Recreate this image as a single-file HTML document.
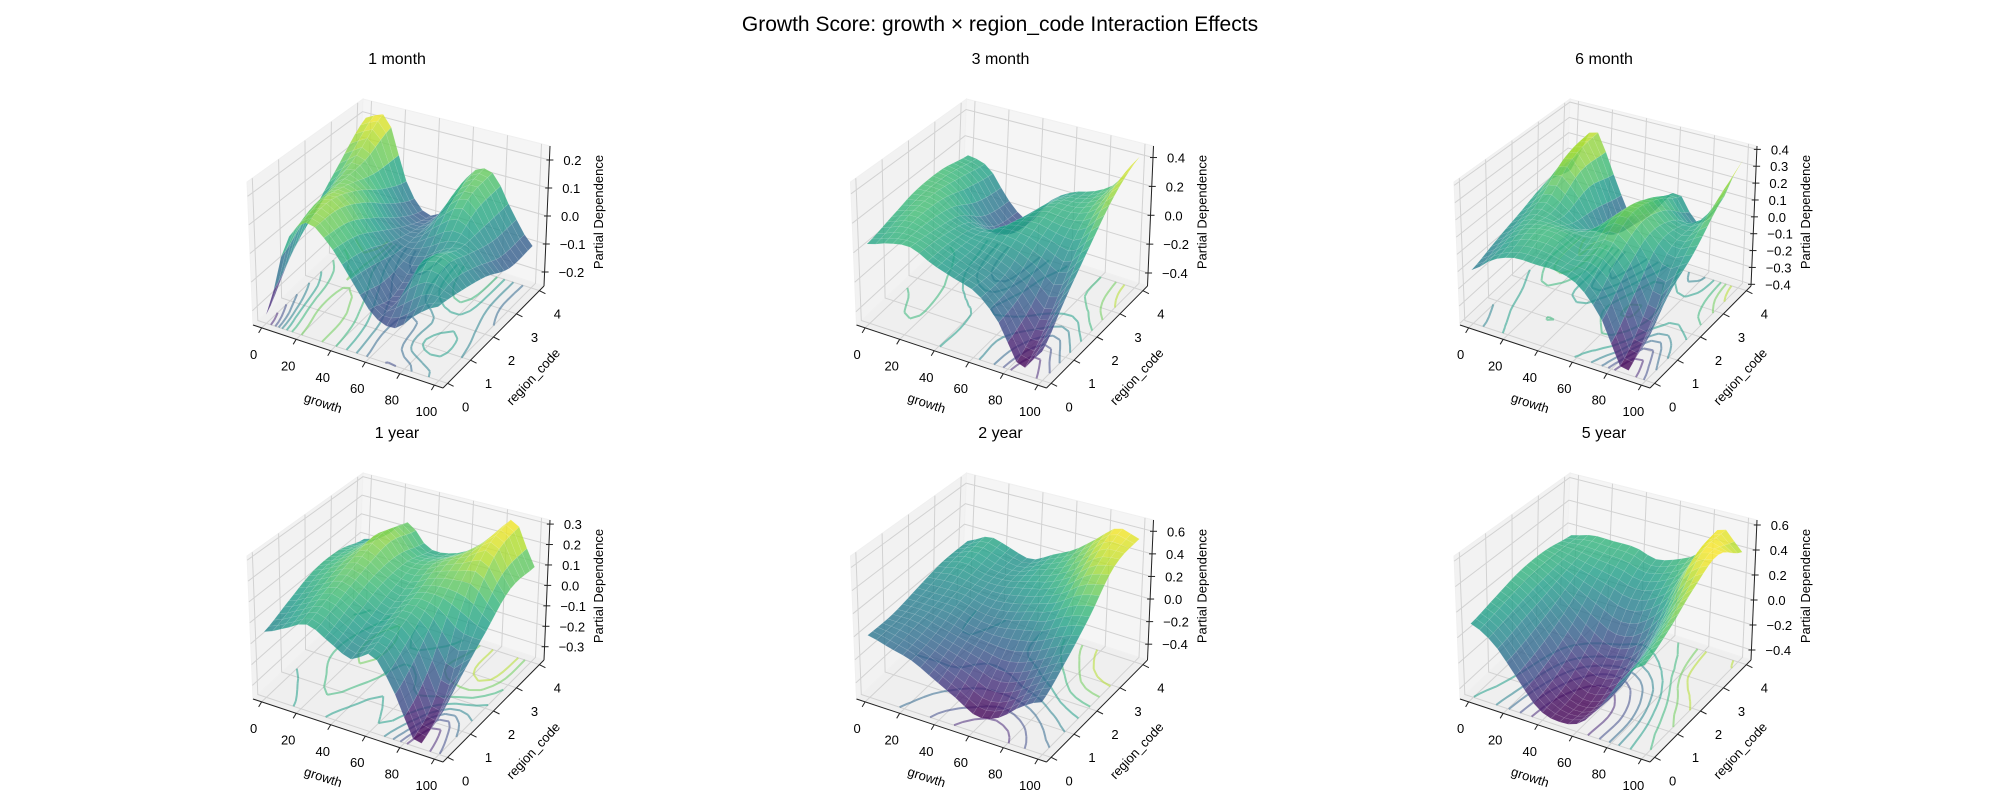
<!DOCTYPE html>
<html><head><meta charset="utf-8"><style>
body{margin:0;background:#fff}
svg text{font-family:"Liberation Sans","DejaVu Sans",sans-serif;fill:#000}
</style></head><body>
<svg id="chart" width="2000" height="800" viewBox="0 0 2000 800" xmlns="http://www.w3.org/2000/svg">
<text x="1000" y="31" font-size="21" text-anchor="middle">Growth Score: growth × region_code Interaction Effects</text>
</svg>
<script>
// ---- data ----
const panelTitles = ["1 month","3 month","6 month","1 year","2 year","5 year"];
const growthValues = [0,12.5,25,37.5,50,62.5,75,87.5,100];
const regionValues = [0,1,2,3,4];
const growthTicks = [0,20,40,60,80,100];
const regionTicks = [0,1,2,3,4];
const zTicks1m = [-0.2,-0.1,0.0,0.1,0.2];
const zTicks3m = [-0.4,-0.2,0.0,0.2,0.4];
const zTicks6m = [-0.4,-0.3,-0.2,-0.1,0.0,0.1,0.2,0.3,0.4];
const zTicks1y = [-0.3,-0.2,-0.1,0.0,0.1,0.2,0.3];
const zTicks2y = [-0.4,-0.2,0.0,0.2,0.4,0.6];
const zTicks5y = [-0.4,-0.2,0.0,0.2,0.4,0.6];
const zRange1m = [-0.25,0.25];
const zRange3m = [-0.49,0.48];
const zRange6m = [-0.41,0.42];
const zRange1y = [-0.365,0.32];
const zRange2y = [-0.54,0.70];
const zRange5y = [-0.48,0.64];
// surface values: rows = region 0..4, cols = growth values
const surf1m = [
 [-0.22,0.05,0.15,0.10,0.00,-0.10,-0.12,-0.05,0.00],
 [-0.10,0.10,0.16,0.08,-0.02,-0.12,0.02,0.05,-0.02],
 [0.00,0.12,0.12,0.02,-0.05,-0.05,0.00,0.02,-0.05],
 [0.10,0.15,0.05,-0.05,-0.05,0.05,0.10,0.00,-0.10],
 [0.20,0.22,0.00,-0.10,-0.05,0.10,0.12,0.00,-0.10]];
const surf3m = [
 [0.05,0.10,0.12,0.05,0.00,-0.05,-0.20,-0.45,-0.30],
 [0.10,0.15,0.10,0.05,0.00,-0.05,-0.15,-0.30,-0.10],
 [0.15,0.15,0.05,0.00,0.05,0.05,0.00,-0.05,0.10],
 [0.15,0.10,-0.10,-0.20,0.00,0.10,0.10,0.15,0.30],
 [0.10,0.05,-0.15,-0.25,-0.05,0.05,0.10,0.20,0.42]];
const surf6m = [
 [-0.10,0.00,0.05,0.05,0.05,0.00,-0.15,-0.40,-0.20],
 [-0.05,0.05,0.10,0.10,0.05,0.10,0.00,-0.25,-0.05],
 [0.00,0.10,0.05,0.00,0.10,0.20,0.10,0.00,0.05],
 [0.05,0.25,0.10,-0.15,0.00,0.15,0.05,0.05,0.20],
 [0.00,0.30,0.05,-0.20,-0.10,0.05,-0.10,0.05,0.35]];
const surf1y = [
 [-0.05,0.00,0.05,0.00,-0.05,0.00,-0.15,-0.35,-0.20],
 [0.00,0.05,0.10,0.05,0.00,0.05,-0.05,-0.25,-0.10],
 [0.05,0.10,0.15,0.10,0.05,0.10,0.10,0.05,0.00],
 [0.05,0.10,0.20,0.10,0.10,0.15,0.20,0.25,0.10],
 [0.00,0.05,0.15,0.05,0.05,0.10,0.20,0.30,0.10]];
const surf2y = [
 [0.00,-0.05,-0.10,-0.20,-0.30,-0.40,-0.35,-0.20,-0.10],
 [0.00,0.00,-0.05,-0.10,-0.15,-0.20,-0.15,-0.05,0.05],
 [0.05,0.05,0.05,0.00,0.00,0.05,0.10,0.20,0.25],
 [0.10,0.15,0.10,0.10,0.15,0.20,0.30,0.45,0.50],
 [0.10,0.20,0.15,0.10,0.20,0.30,0.45,0.60,0.55]];
const surf5y = [
 [0.10,0.00,-0.20,-0.40,-0.45,-0.40,-0.20,0.05,0.20],
 [0.15,0.05,-0.15,-0.35,-0.45,-0.40,-0.20,0.10,0.30],
 [0.20,0.10,-0.05,-0.20,-0.30,-0.25,-0.05,0.25,0.45],
 [0.20,0.15,0.10,0.05,0.00,0.05,0.20,0.50,0.55],
 [0.15,0.20,0.20,0.20,0.15,0.20,0.30,0.55,0.40]];

const surfaces=[surf1m,surf3m,surf6m,surf1y,surf2y,surf5y];
const zTickSets=[zTicks1m,zTicks3m,zTicks6m,zTicks1y,zTicks2y,zTicks5y];
const zRanges=[zRange1m,zRange3m,zRange6m,zRange1y,zRange2y,zRange5y];

// ---- geometry ----
const C={ '000':[253,325],'100':[443,388],'010':[358,226],'110':[544,286],
          '001':[247,182],'101':[441,240],'011':[363,99],'111':[550,146]};
const NS="http://www.w3.org/2000/svg";
const svg=document.getElementById('chart');
const GX=[-5,105], RX=[-0.2,4.2];
function lerp(a,b,t){return [a[0]+(b[0]-a[0])*t,a[1]+(b[1]-a[1])*t];}
function proj(u,v,w,ox,oy){
  const a=lerp(C['000'],C['100'],u), b=lerp(C['010'],C['110'],u);
  const c=lerp(C['001'],C['101'],u), d=lerp(C['011'],C['111'],u);
  const lo=lerp(a,b,v), hi=lerp(c,d,v); const p=lerp(lo,hi,w);
  return [p[0]+ox,p[1]+oy];
}
const VIR=[[68,1,84],[72,40,120],[62,74,137],[49,104,142],[38,130,142],[31,158,137],[53,183,121],[109,205,89],[180,222,44],[253,231,37]];
function viridis(t){t=Math.max(0,Math.min(1,t));const s=t*9,i=Math.min(8,Math.floor(s)),f=s-i;
  const a=VIR[i],b=VIR[i+1];return 'rgb('+[0,1,2].map(k=>Math.round(a[k]+(b[k]-a[k])*f)).join(',')+')';}
function mk(tag,attrs,parent){const e=document.createElementNS(NS,tag);for(const k in attrs)e.setAttribute(k,attrs[k]);(parent||svg).appendChild(e);return e;}
function pts(a){return a.map(p=>p[0].toFixed(1)+','+p[1].toFixed(1)).join(' ');}
function cr(p0,p1,p2,p3,t){return 0.5*((2*p1)+(-p0+p2)*t+(2*p0-5*p1+4*p2-p3)*t*t+(-p0+3*p1-3*p2+p3)*t*t*t);}
function sample(Z,g,r){
  const nc=growthValues.length, nr=regionValues.length;
  const gi=(g-growthValues[0])/(growthValues[nc-1]-growthValues[0])*(nc-1);
  const ri=(r-regionValues[0])/(regionValues[nr-1]-regionValues[0])*(nr-1);
  const ci=Math.min(nc-2,Math.floor(gi)), rj=Math.min(nr-2,Math.floor(ri));
  const tg=gi-ci, tr=ri-rj; const cl=(a,n)=>Math.max(0,Math.min(n-1,a));
  const rows=[];
  for(let k=-1;k<=2;k++){const R=Z[cl(rj+k,nr)];
    rows.push(cr(R[cl(ci-1,nc)],R[cl(ci,nc)],R[cl(ci+1,nc)],R[cl(ci+2,nc)],tg));}
  return cr(rows[0],rows[1],rows[2],rows[3],tr);
}

for(let p=0;p<6;p++){
  const col=p%3,row=Math.floor(p/3);
  const ox=col*603.5, oy=row*374;
  const g=mk('g',{});
  
  
  const Z=surfaces[p], zr=zRanges[p], zt=zTickSets[p];
  const U=x=>(x-GX[0])/(GX[1]-GX[0]), V=x=>(x-RX[0])/(RX[1]-RX[0]), W=z=>(z-zr[0])/(zr[1]-zr[0]);
  const P=(u,v,w)=>proj(u,v,w,ox,oy);
  const t=mk('text',{x:397+ox,y:64+oy,'font-size':16,'text-anchor':'middle'},g);t.textContent=panelTitles[p];
  
  
  const pl=mk('polygon',{points:pts([P(0,0,0),P(0,1,0),P(0,1,1),P(0,0,1)]),fill:'#f2f2f2',stroke:'#f0f0f0'},g);
  
  
  const pb=mk('polygon',{points:pts([P(0,1,0),P(1,1,0),P(1,1,1),P(0,1,1)]),fill:'#f5f5f5',stroke:'#f0f0f0'},g);
  
  
  const pf=mk('polygon',{points:pts([P(0,0,0),P(1,0,0),P(1,1,0),P(0,1,0)]),fill:'#efefef',stroke:'#f0f0f0'},g);
  
  
  const gs={stroke:'#d2d2d2','stroke-width':1,fill:'none'};
  growthTicks.forEach(v=>{const u=U(v);mk('polyline',Object.assign({points:pts([P(u,0,0),P(u,1,0),P(u,1,1)])},gs),g);});
  regionTicks.forEach(r=>{const v=V(r);mk('polyline',Object.assign({points:pts([P(1,v,0),P(0,v,0),P(0,v,1)])},gs),g);});
  zt.forEach(z=>{const w=W(z);mk('polyline',Object.assign({points:pts([P(0,0,w),P(0,1,w),P(1,1,w)])},gs),g);});
  // sample surface
  const N=20; let mn=Infinity,mx=-Infinity;
  const S=[];
  for(let i=0;i<=N;i++){S.push([]);for(let j=0;j<=N;j++){const gv=growthValues[0]+(growthValues[8]-growthValues[0])*j/N;
    const rv=regionValues[0]+(regionValues[4]-regionValues[0])*i/N;const z=sample(Z,gv,rv);
    S[i].push([U(gv),V(rv),z]);mn=Math.min(mn,z);mx=Math.max(mx,z);}}
  // floor contours (marching squares)
  const cg=mk('g',{fill:'none','stroke-width':2,'stroke-opacity':0.55},g);
  
  
  const NL=9;
  for(let l=1;l<NL;l++){
    const lv=mn+(mx-mn)*l/NL; let d='';
    for(let i=0;i<N;i++)for(let j=0;j<N;j++){
      const c=[S[i][j],S[i][j+1],S[i+1][j+1],S[i+1][j]];
      const cross=[];
      for(let e=0;e<4;e++){const a=c[e],b=c[(e+1)%4];
        if((a[2]-lv)*(b[2]-lv)<0){const f=(lv-a[2])/(b[2]-a[2]);cross.push([a[0]+(b[0]-a[0])*f,a[1]+(b[1]-a[1])*f]);}}
      for(let k=0;k+1<cross.length;k+=2){const A=P(cross[k][0],cross[k][1],0),B=P(cross[k+1][0],cross[k+1][1],0);
        d+=`M${A[0].toFixed(1)},${A[1].toFixed(1)}L${B[0].toFixed(1)},${B[1].toFixed(1)}`;}
    }
    if(d)mk('path',{d,stroke:viridis(l/NL)},cg);
  }
  const quads=[];
  for(let i=0;i<N;i++)for(let j=0;j<N;j++){
    const c=[S[i][j],S[i][j+1],S[i+1][j+1],S[i+1][j]];
    const zm=(c[0][2]+c[1][2]+c[2][2]+c[3][2])/4;
    const um=(c[0][0]+c[2][0])/2, vm=(c[0][1]+c[2][1])/2;
    const depth=0.433*4*um-0.75*4*vm+0.5*3*W(zm);
    quads.push({c,zm,depth});}
  quads.sort((a,b)=>a.depth-b.depth);
  const sg=mk('g',{},g);
  
  
  quads.forEach(q=>{const col=viridis((q.zm-mn)/(mx-mn));
    mk('polygon',{points:pts(q.c.map(c=>P(c[0],c[1],W(c[2])))),fill:col,'fill-opacity':0.8,stroke:'#ffffff','stroke-opacity':0.12,'stroke-width':0.6},sg);});
  const ax={stroke:'#222','stroke-width':1};
  const a0=P(0,0,0),a1=P(1,0,0),a2=P(1,1,0),a3=P(1,1,1);
  mk('line',Object.assign({x1:a0[0],y1:a0[1],x2:a1[0],y2:a1[1]},ax),g);
  mk('line',Object.assign({x1:a1[0],y1:a1[1],x2:a2[0],y2:a2[1]},ax),g);
  mk('line',Object.assign({x1:a2[0],y1:a2[1],x2:a3[0],y2:a3[1]},ax),g);
  growthTicks.forEach(v=>{const q=P(U(v),0,0);
    mk('line',Object.assign({x1:q[0],y1:q[1],x2:q[0]-3,y2:q[1]+5},ax),g);
    const tx=mk('text',{x:q[0]-8,y:q[1]+31,'font-size':13,'text-anchor':'middle'},g);tx.textContent=v;
    
    });
  regionTicks.forEach(r=>{const q=P(1,V(r),0);
    mk('line',Object.assign({x1:q[0],y1:q[1],x2:q[0]+6,y2:q[1]+3},ax),g);
    const tx=mk('text',{x:q[0]+18,y:q[1]+28,'font-size':13,'text-anchor':'middle'},g);tx.textContent=r;
    
    });
  zt.forEach(z=>{const q=P(1,1,W(z));
    mk('line',Object.assign({x1:q[0]-3,y1:q[1],x2:q[0]+4,y2:q[1]},ax),g);
    const tx=mk('text',{x:q[0]+14,y:q[1]+5,'font-size':13},g);tx.textContent=(Math.abs(z)<1e-9?'0.0':z.toFixed(1)).replace('-','\u2212');
    
    });
  let q=P(0.5,0,0);
  let tl=mk('text',{x:q[0]-25,y:q[1]+51,'font-size':13,'text-anchor':'middle',transform:`rotate(18 ${q[0]-25} ${q[1]+47})`},g);tl.textContent='growth';
  
  
  q=P(1,0.5,0);
  tl=mk('text',{x:q[0]+40,y:q[1]+44,'font-size':13,'text-anchor':'middle',transform:`rotate(-47 ${q[0]+40} ${q[1]+40})`},g);tl.textContent='region_code';
  
  
  q=P(1,1,0.5);
  tl=mk('text',{x:q[0]+56,y:q[1]-4,'font-size':13,'text-anchor':'middle',transform:`rotate(-90 ${q[0]+56} ${q[1]-4})`},g);tl.textContent='Partial Dependence';
  
  
}
</script>
</body></html>
